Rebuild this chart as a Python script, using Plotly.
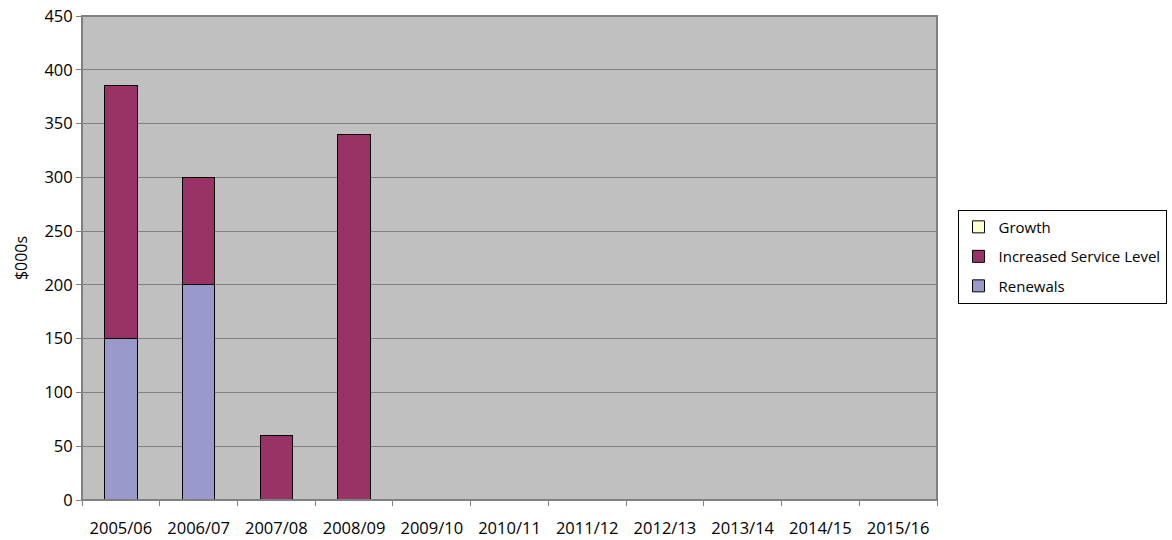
import plotly.graph_objects as go

categories = ["2005/06", "2006/07", "2007/08", "2008/09", "2009/10", "2010/11",
              "2011/12", "2012/13", "2013/14", "2014/15", "2015/16"]
renewals = [150, 200, 0, 0, 0, 0, 0, 0, 0, 0, 0]
increased_service = [235, 100, 60, 340, 0, 0, 0, 0, 0, 0, 0]
growth = [0, 0, 0, 0, 0, 0, 0, 0, 0, 0, 0]

FONT = "Open Sans"
line = dict(color="black", width=1)

fig = go.Figure()
fig.add_trace(go.Bar(x=categories, y=renewals, name="Renewals", legendgroup="r",
                     legendrank=3, marker=dict(color="#9999CC", line=line)))
fig.add_trace(go.Bar(x=categories, y=increased_service, name="Increased Service Level",
                     legendgroup="i", legendrank=2,
                     marker=dict(color="#993366", line=line)))
fig.add_trace(go.Bar(x=categories, y=growth, name="Growth", legendgroup="g",
                     legendrank=1, marker=dict(color="#FFFFCC", line=line)))

fig.update_layout(
    barmode="stack",
    bargap=0.58,
    width=1172, height=540,
    margin=dict(l=82, r=235, t=16, b=40, autoexpand=False),
    paper_bgcolor="white",
    plot_bgcolor="#C0C0C0",
    font=dict(family=FONT, size=16, color="black"),
    showlegend=True,
    legend=dict(
        x=1.024, y=0.60, xanchor="left", yanchor="top",
        traceorder="grouped",
        tracegroupgap=7,
        bordercolor="black", borderwidth=1,
        bgcolor="white",
        font=dict(family=FONT, size=15, color="black"),
        itemclick=False,
    ),
    xaxis=dict(
        showgrid=False,
        automargin=False,
        ticks="outside", ticklen=5, tickcolor="#808080",
        tickson="boundaries",
        showline=True, linecolor="#808080", linewidth=1,
        mirror=False,
        ticklabelstandoff=13,
        tickfont=dict(size=16.5),
    ),
    yaxis=dict(
        range=[0, 450], dtick=50,
        automargin=False,
        showgrid=True, gridcolor="#808080", gridwidth=1,
        ticks="outside", ticklen=5, tickcolor="#808080",
        showline=True, linecolor="#808080", linewidth=1,
        zeroline=False,
        tickfont=dict(size=16.5),
        title=dict(text="$000s", font=dict(size=16), standoff=12),
    ),
)

# plot-area border
fig.add_shape(type="rect", xref="paper", yref="paper", x0=0, y0=0, x1=1, y1=1,
              line=dict(color="#808080", width=2), layer="above")

fig.write_html("out.html")
